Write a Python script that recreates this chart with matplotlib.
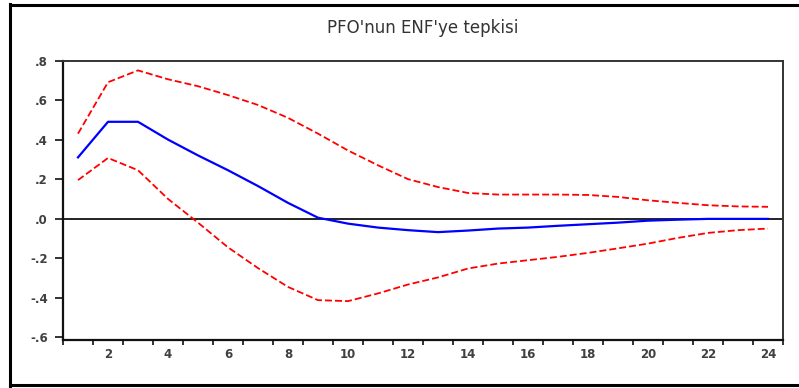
import matplotlib
matplotlib.use("Agg")
import matplotlib.pyplot as plt
from matplotlib.lines import Line2D
import numpy as np

# Impulse response of PFO to a shock in ENF, with +/- 2 S.E. bands
periods = list(range(1, 25))
response = [0.31, 0.49, 0.49, 0.40, 0.32, 0.245, 0.165, 0.08, 0.005, -0.025,
            -0.045, -0.058, -0.068, -0.06, -0.05, -0.045, -0.036, -0.028,
            -0.02, -0.01, -0.005, -0.001, -0.001, -0.001]
upper_band = [0.43, 0.69, 0.75, 0.705, 0.67, 0.625, 0.575, 0.51, 0.43, 0.345,
              0.27, 0.2, 0.16, 0.13, 0.122, 0.122, 0.122, 0.12, 0.11, 0.093,
              0.08, 0.068, 0.062, 0.06]
lower_band = [0.195, 0.307, 0.245, 0.10, -0.02, -0.145, -0.25, -0.345, -0.412,
              -0.417, -0.378, -0.333, -0.297, -0.252, -0.227, -0.21, -0.193,
              -0.173, -0.15, -0.126, -0.097, -0.072, -0.058, -0.05]
title = "PFO'nun ENF'ye tepkisi"
y_ticks = [-0.6, -0.4, -0.2, 0.0, 0.2, 0.4, 0.6, 0.8]
y_labels = ["-.6", "-.4", "-.2", ".0", ".2", ".4", ".6", ".8"]
x_labels = [2, 4, 6, 8, 10, 12, 14, 16, 18, 20, 22, 24]

plt.rcParams["font.family"] = ["DejaVu Sans"]
plt.rcParams["lines.scale_dashes"] = False

W, H = 799, 388
fig = plt.figure(figsize=(W / 100, H / 100), dpi=100)
ax = fig.add_axes([63 / W, 1 - 339.5 / H, (783 - 63) / W, (339.5 - 60.5) / H])

ax.axhline(0, color="#222222", lw=1.4, zorder=1)
ax.plot(periods, upper_band, color="#ff0000", lw=1.3, dashes=(5, 2.2), zorder=2)
ax.plot(periods, lower_band, color="#ff0000", lw=1.3, dashes=(5, 2.2), zorder=2)
ax.plot(periods, response, color="#0000ff", lw=1.6, zorder=3)

ax.set_xlim(0.5, 24.5)
ax.set_ylim(-0.611, 0.8)

# tick marks between periods, labels on even periods
ax.set_xticks(np.arange(0.5, 24.6, 1.0), minor=True)
ax.set_xticks(x_labels)
ax.set_xticklabels([str(v) for v in x_labels])
ax.tick_params(axis="x", which="major", length=0, pad=6, labelsize=8.5,
               labelcolor="#404040")
ax.tick_params(axis="x", which="minor", length=3.5, width=1.3, direction="out",
               color="#222222")
ax.set_yticks(y_ticks)
ax.set_yticklabels(y_labels)
ax.tick_params(axis="y", length=6, width=1.3, direction="out", pad=5,
               labelsize=8.5, labelcolor="#404040", color="#222222")
for lab in ax.get_xticklabels() + ax.get_yticklabels():
    lab.set_fontweight("bold")

for side in ["left", "bottom"]:
    ax.spines[side].set_linewidth(1.6)
    ax.spines[side].set_color("#111111")
for side in ["top", "right"]:
    ax.spines[side].set_linewidth(1.4)
    ax.spines[side].set_color("#333333")

fig.text((63 + 783) / 2 / W, 1 - 28 / H, title, ha="center", va="center",
         fontsize=12, color="#333333")

# outer frame around the graph
def px(x, y):
    return x / W, 1 - y / H

frame_kw = dict(color="black", lw=2.2, transform=fig.transFigure)
fig.add_artist(Line2D(*zip(px(9.5, 5), px(W, 5)), **frame_kw))
fig.add_artist(Line2D(*zip(px(9.5, 385), px(W, 385)), **frame_kw))
fig.add_artist(Line2D(*zip(px(9.5, 4), px(9.5, 386)), **frame_kw))

fig.savefig("out.png", dpi=100)
